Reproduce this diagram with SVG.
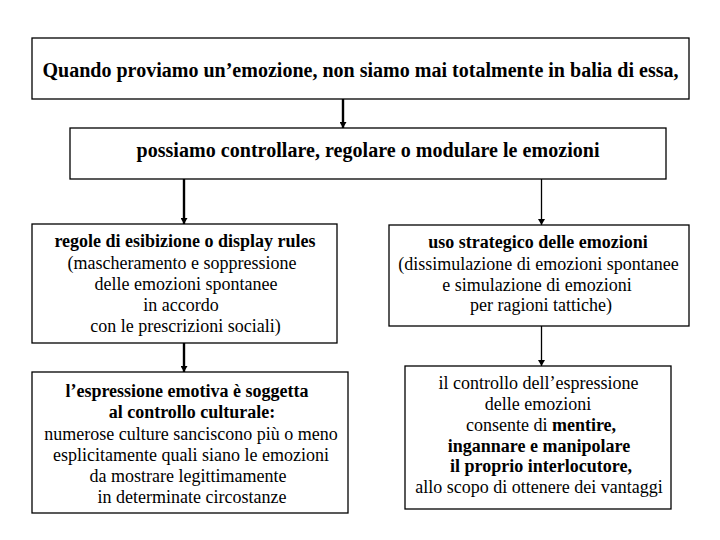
<svg xmlns="http://www.w3.org/2000/svg" width="720" height="540" viewBox="0 0 720 540">
<style>
.box{fill:#fff;stroke:#000;stroke-width:1.3}
text{font-family:"Liberation Serif","Times New Roman",Tinos,serif;fill:#000;text-anchor:middle;font-size:18px}
.h{font-size:20px;font-weight:bold}
.b{font-weight:bold}
.thick{stroke:#000;stroke-width:2.4;fill:none}
.thin{stroke:#000;stroke-width:1.3;fill:none}
</style>
<defs>
<marker id="ah" viewBox="0 0 6 7" refX="6" refY="3.5" markerWidth="6" markerHeight="7" markerUnits="userSpaceOnUse" orient="auto">
<path d="M0,0 L6,3.5 L0,7 z" fill="#000"/>
</marker>
</defs>
<rect width="720" height="540" fill="#fff"/>
<g id="connectors">
<line class="thick" x1="343" y1="99" x2="343" y2="128" marker-end="url(#ah)"/>
<line class="thick" x1="184" y1="179" x2="184" y2="224" marker-end="url(#ah)"/>
<line class="thin" x1="541.5" y1="179" x2="541.5" y2="225" marker-end="url(#ah)"/>
<line class="thick" x1="184" y1="343" x2="184" y2="372" marker-end="url(#ah)"/>
<line class="thin" x1="541.5" y1="326" x2="541.5" y2="366" marker-end="url(#ah)"/>
</g>
<g id="n1">
<rect class="box" x="32" y="38" width="657" height="61"/>
<text class="h" font-family="Liberation Serif" x="360.5" y="77" textLength="636" lengthAdjust="spacing">Quando proviamo un’emozione, non siamo mai totalmente in balia di essa,</text>
</g>
<g id="n2">
<rect class="box" x="70" y="128" width="596" height="51"/>
<text class="h" font-family="Liberation Serif" x="368" y="157" textLength="463" lengthAdjust="spacing">possiamo controllare, regolare o modulare le emozioni</text>
</g>
<g id="n3">
<rect class="box" x="32" y="224" width="305" height="119"/>
<text class="b" font-family="Liberation Serif" x="185" y="247">regole di esibizione o display rules</text>
<text font-family="Liberation Serif" x="182" y="269">(mascheramento e soppressione</text>
<text font-family="Liberation Serif" x="186" y="290">delle emozioni spontanee</text>
<text font-family="Liberation Serif" x="181" y="311">in accordo</text>
<text font-family="Liberation Serif" x="185.5" y="332">con le prescrizioni sociali)</text>
</g>
<g id="n4">
<rect class="box" x="389" y="225" width="300" height="101"/>
<text class="b" font-family="Liberation Serif" x="538" y="248">uso strategico delle emozioni</text>
<text font-family="Liberation Serif" x="538.5" y="270">(dissimulazione di emozioni spontanee</text>
<text font-family="Liberation Serif" x="537" y="291">e simulazione di emozioni</text>
<text font-family="Liberation Serif" x="541" y="311">per ragioni tattiche)</text>
</g>
<g id="n5">
<rect class="box" x="32" y="372" width="316" height="141"/>
<text class="b" font-family="Liberation Serif" x="187" y="397">l’espressione emotiva è soggetta</text>
<text class="b" font-family="Liberation Serif" x="192" y="418">al controllo culturale:</text>
<text font-family="Liberation Serif" x="191" y="440">numerose culture sanciscono più o meno</text>
<text font-family="Liberation Serif" x="191" y="461">esplicitamente quali siano le emozioni</text>
<text font-family="Liberation Serif" x="188" y="482">da mostrare legittimamente</text>
<text font-family="Liberation Serif" x="192" y="503">in determinate circostanze</text>
</g>
<g id="n6">
<rect class="box" x="405" y="366" width="266" height="143"/>
<text font-family="Liberation Serif" x="538.5" y="389">il controllo dell’espressione</text>
<text font-family="Liberation Serif" x="538" y="410">delle emozioni</text>
<text font-family="Liberation Serif" x="541" y="431">consente di <tspan class="b">mentire,</tspan></text>
<text class="b" font-family="Liberation Serif" x="539" y="452">ingannare e manipolare</text>
<text class="b" font-family="Liberation Serif" x="541" y="472">il proprio interlocutore,</text>
<text font-family="Liberation Serif" x="539" y="493">allo scopo di ottenere dei vantaggi</text>
</g>
</svg>
